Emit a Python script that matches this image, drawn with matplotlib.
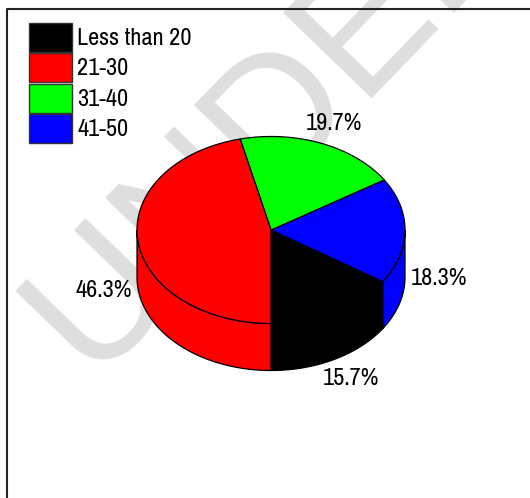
import numpy as np
import matplotlib
matplotlib.use("Agg")
import matplotlib.pyplot as plt
from matplotlib.patches import Polygon, Rectangle
from matplotlib import font_manager

# ---- data ----
categories = ["Less than 20", "21-30", "31-40", "41-50"]
values = [15.7, 46.3, 19.7, 18.3]
colors = ["#000000", "#ff0000", "#00ff00", "#0000ff"]
draw_order = [0, 3, 2, 1]          # counter-clockwise from the bottom
watermark = "UNDER REVIEW"

avail = sorted({f.name for f in font_manager.fontManager.ttflist})
fam = [f for f in ["Liberation Sans Narrow", "Arial Narrow", "Archivo Narrow", "Roboto Condensed",
                   "Liberation Sans", "DejaVu Sans"] if f in avail]
plt.rcParams["font.family"] = fam

W, H = 530, 498
fig = plt.figure(figsize=(W / 100, H / 100), dpi=100)
ax = fig.add_axes([0, 0, 1, 1])
ax.set_xlim(0, W)
ax.set_ylim(H, 0)
ax.axis("off")

# watermark
ax.text(95, 386, watermark, rotation=46, rotation_mode="anchor", ha="left", va="baseline",
        fontsize=128, color="#dedede", family=["Liberation Sans", "DejaVu Sans"], zorder=0)

# frame (left + top visible)
ax.plot([7, 7, W + 2], [H + 2, 9, 9], color="#222222", lw=1.5, clip_on=False, zorder=1)

# ---- 3D pie ----
cx, cy, rx, ry, depth = 271, 230, 134, 93.5, 47
start = -90.0

def pt(theta, dz=0.0):
    t = np.radians(theta)
    return np.column_stack([cx + rx * np.cos(t), cy - ry * np.sin(t) + dz])

angles = []
a = start
for i in draw_order:
    span = values[i] / sum(values) * 360.0
    angles.append((i, a, a + span))
    a += span

for i, a0, a1 in angles:
    for lo, hi in [(-180, 0), (180, 360), (540, 720)]:
        s, e = max(a0, lo), min(a1, hi)
        if e > s:
            th = np.linspace(s, e, 100)
            top = pt(th)
            bot = pt(th[::-1], depth)
            ax.add_patch(Polygon(np.vstack([top, bot]), closed=True, facecolor=colors[i],
                                 edgecolor="black", lw=0.9, zorder=2))

for i, a0, a1 in angles:
    th = np.linspace(a0, a1, 200)
    poly = np.vstack([[cx, cy], pt(th)])
    ax.add_patch(Polygon(poly, closed=True, facecolor=colors[i], edgecolor="black",
                         lw=0.9, zorder=3))

FS = 17.5
for i, a0, a1 in angles:
    mid = np.radians((a0 + a1) / 2)
    x = cx + (rx + 34) * np.cos(mid)
    y = cy - (ry + 22) * np.sin(mid)
    if np.sin(mid) < 0:
        y += depth
    ax.text(x, y, f"{values[i]:.1f}%", ha="center", va="center", fontsize=FS, zorder=4)

lx, ly, bw, bh, pitch = 29, 23, 43, 29, 30.3
for k, (lab, col) in enumerate(zip(categories, colors)):
    y0 = ly + k * pitch
    ax.add_patch(Rectangle((lx, y0), bw, bh, facecolor=col, edgecolor="#333333", lw=1, zorder=4))
    ax.text(lx + bw + 5, y0 + bh / 2 + 1, lab, ha="left", va="center", fontsize=FS, zorder=4)

fig.savefig("out.png", dpi=100)
